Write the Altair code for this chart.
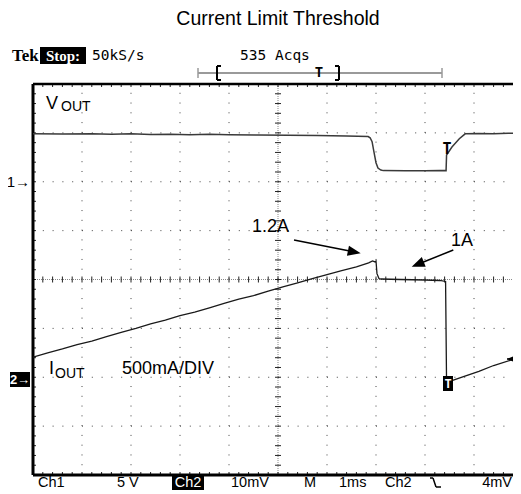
import altair as alt
import pandas as pd

# ---------------- data ----------------
# time in ms from the left edge of the graticule (1 ms/div)
vout_t = [0.00, 0.60, 1.20, 1.60, 2.00, 2.40, 2.80, 3.20, 3.60, 4.00, 4.60, 5.20,
          5.80, 6.40, 6.84, 6.88, 6.92, 6.96, 7.00, 7.04, 7.10, 7.15, 7.60, 8.00,
          8.30, 8.43, 8.44, 8.55, 8.70, 8.82, 9.10, 9.40, 9.70, 9.96]
vout_v = [4.90, 4.88, 4.90, 4.86, 4.90, 4.84, 4.86, 4.82, 4.85, 4.80, 4.78, 4.76,
          4.72, 4.68, 4.62, 4.50, 4.10, 3.00, 1.95, 1.40, 1.20, 1.14, 1.13, 1.13,
          1.16, 1.14, 2.74, 3.55, 4.40, 4.90, 4.94, 4.92, 4.97, 4.98]

iout_t = [0.00, 0.30, 0.60, 0.90, 1.20, 1.50, 1.80, 2.10, 2.40, 2.70, 3.00, 3.30,
          3.60, 3.90, 4.20, 4.50, 4.80, 5.10, 5.40, 5.70, 6.00, 6.30, 6.60, 6.85,
          6.93, 6.98, 7.00, 7.02, 7.06, 7.10, 7.50, 8.00, 8.30, 8.42, 8.44, 8.52,
          8.80, 9.10, 9.40, 9.84]
iout_a = [0.205, 0.25, 0.29, 0.335, 0.37, 0.415, 0.46, 0.50, 0.545, 0.585, 0.63, 0.665,
          0.71, 0.755, 0.80, 0.835, 0.88, 0.925, 0.965, 1.01, 1.05, 1.09, 1.13, 1.17,
          1.19, 1.18, 1.19, 1.06, 1.01, 1.005, 1.00, 0.995, 0.99, 0.98, -0.06, -0.04,
          0.01, 0.06, 0.12, 0.19]

# scope settings
ch1_volts_per_div = 5.0
ch2_amps_per_div = 0.5
ch1_ground_div = 2.0
ch2_ground_div = -2.0

title_text = "Current Limit Threshold"
bottom_labels = ["Ch1", "5 V", "Ch2", "10mV", "M", "1ms", "Ch2", "4mV"]

# ---------------- layout ----------------
W, H = 480, 391
PXX = 49.0          # px per division, horizontal
PXY = H / 8.0       # px per division, vertical
XMAX = W / PXX
OX, OY = 33, 84     # page position of plot origin
SANS = "Liberation Sans"
MONO = "DejaVu Sans Mono"
SERIF = "Liberation Serif"

xs = alt.Scale(domain=[0, XMAX], nice=False, zero=False)
ys = alt.Scale(domain=[-4, 4], nice=False, zero=False)


def X(f):
    return alt.X(f, type="quantitative", scale=xs, axis=None)


def Y(f):
    return alt.Y(f, type="quantitative", scale=ys, axis=None)


ONE = pd.DataFrame({"k": [0]})


def text_at(s, x, y, size, font=SANS, color="black", align="left",
            baseline="alphabetic", weight="normal"):
    return alt.Chart(ONE).mark_text(
        text=s, fontSize=size, font=font, color=color, align=align,
        baseline=baseline, fontWeight=weight
    ).encode(x=alt.value(x - OX), y=alt.value(y - OY))


def box(x1, x2, y1, y2, color="black"):
    return alt.Chart(ONE).mark_rect(color=color).encode(
        x=alt.value(x1 - OX), x2=alt.value(x2 - OX),
        y=alt.value(y1 - OY), y2=alt.value(y2 - OY))


def seg(x1, y1, x2, y2, color="black", width=1.0):
    return alt.Chart(ONE).mark_rule(color=color, strokeWidth=width).encode(
        x=alt.value(x1 - OX), x2=alt.value(x2 - OX),
        y=alt.value(y1 - OY), y2=alt.value(y2 - OY))


def head(x, y, angle, size=676):
    return alt.Chart(ONE).mark_point(
        shape="M0,0L-1,-0.4L-1,0.4Z", filled=True, size=size, angle=angle,
        color="black", opacity=1, strokeWidth=0
    ).encode(x=alt.value(x - OX), y=alt.value(y - OY))


layers = []

# graticule: dotted major lines
vgrid = pd.DataFrame({"x1": [1, 2, 3, 4, 6, 7, 8, 9]})
vgrid["y1"] = -4
vgrid["y2"] = 4
layers.append(alt.Chart(vgrid).mark_rule(color="#444", strokeWidth=1,
                                          strokeDash=[1, PXY * 0.2 - 1]).encode(
    x=X("x1"), y=Y("y1"), y2="y2:Q"))
hgrid = pd.DataFrame({"y1": [-3, -2, -1, 1, 2, 3]})
hgrid["x1"] = 0
hgrid["x2"] = XMAX
layers.append(alt.Chart(hgrid).mark_rule(color="#444", strokeWidth=1,
                                          strokeDash=[1, PXX * 0.2 - 1]).encode(
    x=X("x1"), x2="x2:Q", y=Y("y1")))

# centre cross (dense dots)
cdf = pd.DataFrame({"x1": [5, 0], "x2": [5, XMAX], "y1": [-4, 0], "y2": [4, 0]})
layers.append(alt.Chart(cdf).mark_rule(color="#888", strokeDash=[1, 1], strokeWidth=1).encode(
    x=X("x1"), x2="x2:Q", y=Y("y1"), y2="y2:Q"))

# minor ticks on borders and centre cross
TX = 1 / PXX
TY = 1 / PXY
rows = []
for k in range(50):
    x = round(k * 0.2, 3)
    if x > XMAX:
        continue
    rows.append((x, 4, x, 4 - 3 * TY))
    rows.append((x, -4, x, -4 + 3 * TY))
    rows.append((x, -3 * TY, x, 3 * TY))
for k in range(41):
    y = round(-4 + k * 0.2, 3)
    rows.append((0, y, 3 * TX, y))
    rows.append((5 - 3 * TX, y, 5 + 3 * TX, y))
tdf = pd.DataFrame(rows, columns=["x1", "y1", "x2", "y2"])
layers.append(alt.Chart(tdf).mark_rule(color="#222", strokeWidth=1).encode(
    x=X("x1"), x2="x2:Q", y=Y("y1"), y2="y2:Q"))

# borders (left, top, bottom)
bdf = pd.DataFrame({"x1": [0, 0, 0], "x2": [0, XMAX, XMAX], "y1": [-4, 4, -4],
                    "y2": [4, 4, -4], "w": [3, 2.5, 3]})
layers.append(alt.Chart(bdf).mark_rule(color="black").encode(
    x=X("x1"), x2="x2:Q", y=Y("y1"), y2="y2:Q",
    strokeWidth=alt.StrokeWidth("w:Q", scale=None, legend=None)))

# traces
vdf = pd.DataFrame({"t": vout_t, "d": [v / ch1_volts_per_div + ch1_ground_div for v in vout_v]})
vdf["o"] = range(len(vdf))
layers.append(alt.Chart(vdf).mark_line(color="#3a3a3a", strokeWidth=1.5, clip=True).encode(
    x=X("t"), y=Y("d"), order="o:Q"))

idf = pd.DataFrame({"t": iout_t, "d": [a / ch2_amps_per_div + ch2_ground_div for a in iout_a]})
idf["o"] = range(len(idf))
layers.append(alt.Chart(idf).mark_line(color="#1a1a1a", strokeWidth=1.3, clip=True).encode(
    x=X("t"), y=Y("d"), order="o:Q"))

# title
layers.append(text_at(title_text, 278, 19, 19.5, align="center", baseline="middle"))

# header
layers.append(text_at("Tek", 12, 56, 17, font=SERIF, weight="bold", baseline="middle"))
layers.append(box(40, 86, 47, 64))
layers.append(text_at("Stop:", 63, 56, 15, font=SERIF, weight="bold", color="white",
                      align="center", baseline="middle"))
layers.append(text_at("50kS/s", 92, 56, 14.5, font=MONO, baseline="middle"))
layers.append(text_at("535 Acqs", 240, 56, 14.5, font=MONO, baseline="middle"))

# record-length bar
layers.append(seg(198, 73, 442, 73, "#9a9a9a", 2))
layers.append(seg(198, 68, 198, 78, "#9a9a9a", 1.5))
layers.append(seg(442, 68, 442, 78, "#9a9a9a", 1.5))
layers.append(seg(217, 66, 217, 80, "black", 2))
layers.append(seg(217, 66, 221, 66, "black", 2))
layers.append(seg(217, 80, 221, 80, "black", 2))
layers.append(seg(339, 66, 339, 80, "black", 2))
layers.append(seg(335, 66, 339, 66, "black", 2))
layers.append(seg(335, 80, 339, 80, "black", 2))
layers.append(text_at("T", 319, 73, 14, font=MONO, weight="bold", align="center", baseline="middle"))

# bottom status line
layers.append(text_at(bottom_labels[0], 38, 483, 14.5, baseline="middle"))
layers.append(text_at(bottom_labels[1], 117, 483, 14.5, baseline="middle"))
layers.append(box(172, 204, 476, 490))
layers.append(text_at(bottom_labels[2], 188, 483, 14.5, color="white", align="center", baseline="middle"))
layers.append(text_at(bottom_labels[3], 231, 483, 14.5, baseline="middle"))
layers.append(text_at(bottom_labels[4], 304, 483, 14.5, baseline="middle"))
layers.append(text_at(bottom_labels[5], 339, 483, 14.5, baseline="middle"))
layers.append(text_at(bottom_labels[6], 385, 483, 14.5, baseline="middle"))
layers.append(seg(430, 478, 433, 478, "black", 1.5))
layers.append(seg(433, 478, 436, 487, "black", 1.5))
layers.append(seg(436, 487, 441, 487, "black", 1.5))
layers.append(text_at(bottom_labels[7], 512, 483, 14.5, align="right", baseline="middle"))

# channel markers
layers.append(text_at("1\u2192", 30, 182, 15, align="right", baseline="middle"))
layers.append(box(10, 30, 372, 387))
layers.append(text_at("2\u2192", 20, 379.5, 13, color="white", weight="bold", align="center", baseline="middle"))

# trace labels
layers.append(text_at("V", 46, 109, 18))
layers.append(text_at("OUT", 61, 111, 14))
layers.append(text_at("I", 49, 374, 18))
layers.append(text_at("OUT", 55, 378, 14))
layers.append(text_at("500mA/DIV", 122, 374, 18))
layers.append(text_at("1.2A", 252, 232, 18))
layers.append(text_at("1A", 451, 246, 18))

# arrows
layers.append(seg(294, 240, 351, 251.3, "black", 1.5))
layers.append(head(360.7, 253.3, 11.3))
layers.append(seg(453.3, 250, 421, 263, "black", 1.5))
layers.append(head(411.7, 266.7, 158.1))

# trigger markers
layers.append(text_at("T", 447, 149, 15, font=MONO, weight="bold", align="center", baseline="middle"))
layers.append(box(443, 453, 376, 391))
layers.append(text_at("T", 448, 384, 12, font=MONO, weight="bold", color="white", align="center", baseline="middle"))
layers.append(head(507, 359, 180, size=196))
layers.append(seg(507, 359, 513, 359, "black", 1.5))

chart = alt.layer(*layers).properties(
    width=W, height=H,
    autosize=alt.AutoSizeParams(type="none"),
    padding={"left": 25, "top": 76, "right": 0, "bottom": 16},
    background="white",
).configure_view(stroke=None)

chart.save("out.html", embed_options={"renderer": "svg", "actions": False})
